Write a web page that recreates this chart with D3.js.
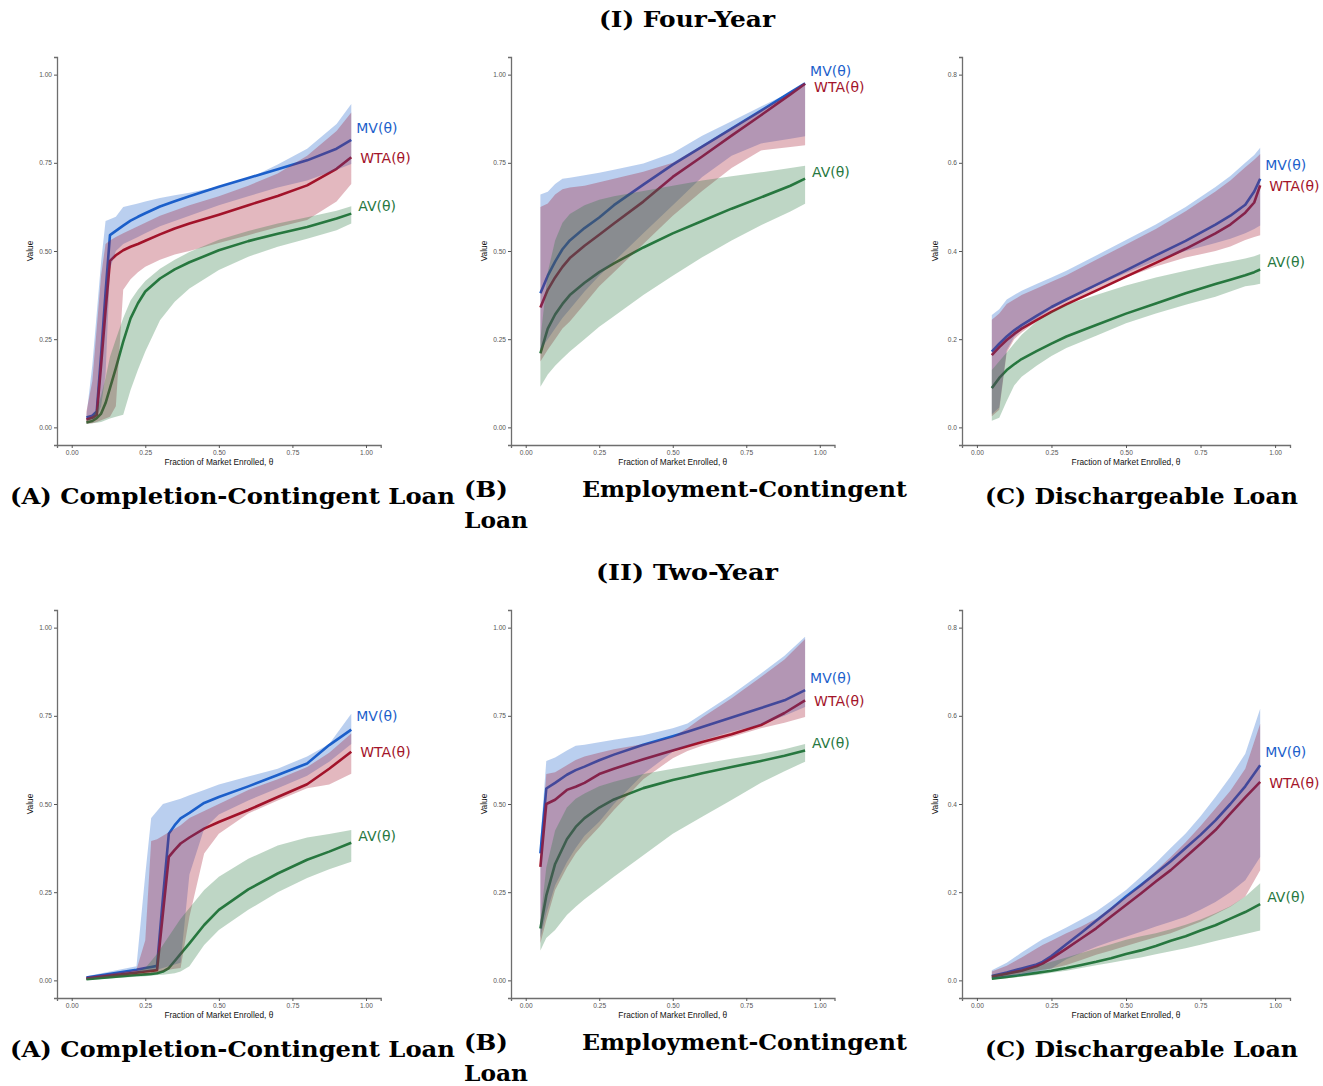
<!DOCTYPE html>
<html><head><meta charset="utf-8">
<script src="https://cdn.jsdelivr.net/npm/d3@7"></script>
<style>body{margin:0;background:#fff}svg{display:block}</style>
</head><body>
<svg id="c" width="1323" height="1086"></svg>
<script>
// ---------- DATA ----------
const rowTitles = ["(I) Four-Year", "(II) Two-Year"];
const seriesNames = ["MV(θ)", "WTA(θ)", "AV(θ)"];
const xTicks = [0, 0.25, 0.5, 0.75, 1];
const yTicksUnit = [0, 0.25, 0.5, 0.75, 1];
const yTicksDis = [0, 0.2, 0.4, 0.6, 0.8];

// Four-year, (A) Completion-Contingent
const xFourA   = [0.05,0.07,0.085,0.1,0.115,0.13,0.15,0.175,0.2,0.225,0.25,0.3,0.35,0.4,0.5,0.6,0.7,0.8,0.9,0.95];
const mvFourA  = [0.028,0.033,0.045,0.207,0.383,0.545,0.557,0.572,0.586,0.597,0.607,0.626,0.641,0.655,0.682,0.707,0.732,0.757,0.79,0.815];
const mvLoFourA= [0.02,0.022,0.03,0.06,0.15,0.45,0.5,0.52,0.53,0.54,0.55,0.57,0.585,0.6,0.63,0.655,0.68,0.7,0.73,0.747];
const mvHiFourA= [0.033,0.176,0.323,0.47,0.585,0.59,0.597,0.625,0.63,0.635,0.64,0.65,0.658,0.665,0.683,0.705,0.745,0.79,0.86,0.917];
const wtaFourA = [0.022,0.027,0.035,0.178,0.331,0.472,0.488,0.502,0.512,0.52,0.529,0.547,0.564,0.578,0.603,0.63,0.656,0.686,0.733,0.766];
const wtaLoFourA=[0.01,0.012,0.015,0.02,0.025,0.03,0.06,0.39,0.42,0.44,0.455,0.475,0.49,0.5,0.523,0.545,0.567,0.588,0.64,0.69];
const wtaHiFourA=[0.045,0.131,0.281,0.431,0.52,0.53,0.54,0.55,0.56,0.57,0.58,0.6,0.615,0.63,0.655,0.685,0.72,0.77,0.84,0.893];
const avFourA  = [0.014,0.018,0.026,0.039,0.069,0.111,0.168,0.243,0.309,0.352,0.385,0.422,0.448,0.468,0.502,0.528,0.549,0.568,0.592,0.606];
const avLoFourA= [0.01,0.012,0.013,0.015,0.02,0.025,0.03,0.036,0.106,0.163,0.215,0.304,0.356,0.394,0.446,0.484,0.512,0.535,0.559,0.578];
const avHiFourA= [0.02,0.03,0.05,0.09,0.14,0.2,0.25,0.31,0.36,0.39,0.415,0.45,0.475,0.497,0.532,0.557,0.578,0.596,0.614,0.627];
const labelYFourA = [0.85, 0.765, 0.627];

// Four-year, (B) Employment-Contingent
const xFourB   = [0.05,0.075,0.1,0.125,0.15,0.2,0.25,0.3,0.4,0.5,0.6,0.7,0.8,0.9,0.95];
const mvFourB  = [0.38,0.43,0.47,0.505,0.53,0.565,0.595,0.63,0.688,0.745,0.796,0.847,0.898,0.95,0.975];
const mvLoFourB= [0.22,0.25,0.28,0.31,0.335,0.385,0.43,0.47,0.55,0.63,0.71,0.77,0.805,0.818,0.825];
const mvHiFourB= [0.66,0.668,0.69,0.705,0.708,0.715,0.722,0.73,0.748,0.778,0.827,0.868,0.91,0.95,0.978];
const wtaFourB = [0.34,0.39,0.425,0.455,0.48,0.515,0.546,0.578,0.64,0.71,0.768,0.827,0.885,0.944,0.974];
const wtaLoFourB=[0.187,0.22,0.25,0.28,0.3,0.35,0.4,0.44,0.52,0.6,0.67,0.735,0.785,0.795,0.8];
const wtaHiFourB=[0.625,0.635,0.66,0.675,0.68,0.685,0.695,0.705,0.725,0.75,0.8,0.85,0.9,0.945,0.974];
const avFourB  = [0.21,0.28,0.32,0.35,0.375,0.41,0.44,0.465,0.51,0.55,0.585,0.62,0.652,0.685,0.705];
const avLoFourB= [0.115,0.15,0.175,0.195,0.215,0.25,0.285,0.315,0.375,0.43,0.482,0.53,0.573,0.612,0.634];
const avHiFourB= [0.25,0.44,0.53,0.58,0.605,0.63,0.645,0.655,0.67,0.685,0.7,0.712,0.723,0.735,0.742];
const labelYFourB = [1.011, 0.966, 0.723];

// Four-year, (C) Dischargeable
const xFourC   = [0.05,0.075,0.1,0.125,0.15,0.2,0.25,0.3,0.4,0.5,0.6,0.7,0.8,0.85,0.9,0.93,0.95];
const mvFourC  = [0.172,0.19,0.206,0.22,0.232,0.253,0.273,0.29,0.323,0.356,0.39,0.423,0.46,0.48,0.505,0.535,0.564];
const mvLoFourC= [0.03,0.045,0.175,0.205,0.222,0.247,0.268,0.288,0.32,0.35,0.378,0.4,0.418,0.428,0.44,0.45,0.458];
const mvHiFourC= [0.255,0.268,0.29,0.3,0.31,0.325,0.34,0.355,0.39,0.425,0.46,0.5,0.545,0.57,0.6,0.618,0.634];
const wtaFourC = [0.164,0.182,0.198,0.212,0.224,0.243,0.262,0.279,0.31,0.342,0.373,0.405,0.44,0.46,0.487,0.51,0.549];
const wtaLoFourC=[0.025,0.04,0.17,0.2,0.215,0.24,0.26,0.28,0.31,0.34,0.365,0.385,0.4,0.41,0.425,0.432,0.436];
const wtaHiFourC=[0.244,0.258,0.28,0.29,0.3,0.315,0.33,0.345,0.38,0.415,0.45,0.49,0.535,0.56,0.59,0.607,0.62];
const avFourC  = [0.089,0.112,0.13,0.143,0.155,0.173,0.19,0.206,0.232,0.258,0.281,0.304,0.325,0.335,0.345,0.352,0.358];
const avLoFourC= [0.015,0.022,0.06,0.095,0.115,0.14,0.162,0.18,0.208,0.236,0.258,0.278,0.296,0.308,0.32,0.323,0.326];
const avHiFourC= [0.13,0.15,0.17,0.19,0.21,0.24,0.262,0.278,0.3,0.322,0.34,0.355,0.37,0.376,0.383,0.388,0.393];
const labelYFourC = [0.594, 0.547, 0.375];

// Two-year, (A) Completion-Contingent
const xTwoA    = [0.05,0.22,0.25,0.27,0.29,0.31,0.33,0.35,0.37,0.4,0.45,0.5,0.6,0.7,0.8,0.875,0.95];
const mvTwoA   = [0.008,0.03,0.035,0.038,0.041,0.234,0.416,0.44,0.459,0.475,0.503,0.52,0.55,0.582,0.615,0.667,0.711];
const mvLoTwoA = [0.004,0.02,0.025,0.028,0.03,0.035,0.04,0.045,0.05,0.3,0.43,0.47,0.51,0.545,0.58,0.62,0.67];
const mvHiTwoA = [0.012,0.04,0.3,0.46,0.48,0.5,0.505,0.51,0.515,0.525,0.54,0.555,0.578,0.6,0.635,0.67,0.756];
const wtaTwoA  = [0.005,0.022,0.025,0.027,0.029,0.19,0.35,0.37,0.388,0.405,0.43,0.449,0.483,0.52,0.556,0.6,0.648];
const wtaLoTwoA= [0.003,0.015,0.017,0.02,0.022,0.025,0.03,0.033,0.035,0.18,0.36,0.416,0.473,0.51,0.545,0.555,0.586];
const wtaHiTwoA= [0.01,0.03,0.114,0.395,0.4,0.41,0.42,0.43,0.44,0.46,0.48,0.5,0.54,0.57,0.605,0.645,0.7];
const avTwoA   = [0.003,0.015,0.017,0.018,0.02,0.025,0.035,0.055,0.075,0.105,0.157,0.2,0.258,0.303,0.342,0.365,0.39];
const avLoTwoA = [0.001,0.01,0.012,0.013,0.015,0.016,0.018,0.02,0.025,0.04,0.1,0.143,0.2,0.25,0.29,0.315,0.336];
const avHiTwoA = [0.006,0.025,0.035,0.055,0.075,0.1,0.125,0.15,0.175,0.205,0.256,0.294,0.345,0.382,0.405,0.415,0.426];
const labelYTwoA = [0.749, 0.647, 0.409];

// Two-year, (B) Employment-Contingent
const xTwoB    = [0.05,0.07,0.1,0.14,0.17,0.2,0.25,0.3,0.4,0.5,0.55,0.6,0.7,0.8,0.88,0.95];
const mvTwoB   = [0.36,0.544,0.56,0.583,0.596,0.606,0.624,0.64,0.668,0.692,0.705,0.718,0.745,0.772,0.794,0.823];
const mvLoTwoB = [0.12,0.19,0.27,0.335,0.375,0.41,0.45,0.5,0.585,0.648,0.665,0.68,0.705,0.725,0.75,0.775];
const mvHiTwoB = [0.4,0.622,0.632,0.652,0.665,0.668,0.675,0.682,0.695,0.715,0.728,0.755,0.81,0.87,0.92,0.974];
const wtaTwoB  = [0.322,0.5,0.512,0.54,0.549,0.56,0.585,0.6,0.627,0.652,0.664,0.676,0.698,0.724,0.758,0.794];
const wtaLoTwoB= [0.105,0.17,0.256,0.32,0.36,0.39,0.435,0.483,0.57,0.63,0.65,0.665,0.69,0.715,0.73,0.747];
const wtaHiTwoB= [0.35,0.585,0.59,0.61,0.625,0.635,0.645,0.655,0.67,0.69,0.715,0.745,0.8,0.86,0.91,0.968];
const avTwoB   = [0.147,0.24,0.33,0.4,0.435,0.46,0.49,0.513,0.545,0.568,0.577,0.587,0.605,0.622,0.637,0.652];
const avLoTwoB = [0.085,0.12,0.143,0.185,0.209,0.23,0.262,0.294,0.355,0.416,0.44,0.464,0.511,0.56,0.593,0.62];
const avHiTwoB = [0.17,0.32,0.425,0.49,0.515,0.53,0.55,0.563,0.585,0.6,0.607,0.614,0.628,0.642,0.655,0.67];
const labelYTwoB = [0.856, 0.791, 0.672];

// Two-year, (C) Dischargeable
const xTwoC    = [0.05,0.1,0.15,0.2,0.22,0.25,0.3,0.35,0.4,0.45,0.5,0.55,0.6,0.65,0.7,0.75,0.8,0.85,0.9,0.95];
const mvTwoC   = [0.01,0.018,0.027,0.036,0.042,0.055,0.082,0.108,0.135,0.162,0.19,0.216,0.243,0.27,0.3,0.33,0.363,0.4,0.44,0.488];
const mvLoTwoC = [0.005,0.008,0.012,0.02,0.022,0.027,0.048,0.062,0.076,0.088,0.099,0.11,0.122,0.133,0.144,0.16,0.178,0.2,0.227,0.28];
const mvHiTwoC = [0.023,0.04,0.063,0.085,0.093,0.103,0.12,0.138,0.156,0.18,0.205,0.235,0.266,0.3,0.333,0.372,0.416,0.462,0.514,0.616];
const wtaTwoC  = [0.008,0.015,0.022,0.032,0.038,0.05,0.072,0.095,0.118,0.145,0.171,0.197,0.224,0.25,0.28,0.31,0.341,0.378,0.415,0.45];
const wtaLoTwoC= [0.006,0.01,0.015,0.022,0.024,0.027,0.035,0.046,0.058,0.068,0.078,0.088,0.098,0.107,0.12,0.133,0.15,0.167,0.19,0.25];
const wtaHiTwoC= [0.02,0.033,0.052,0.072,0.08,0.09,0.107,0.122,0.14,0.165,0.19,0.218,0.248,0.28,0.313,0.35,0.39,0.43,0.48,0.582];
const avTwoC   = [0.004,0.008,0.012,0.017,0.019,0.022,0.028,0.035,0.042,0.05,0.06,0.068,0.078,0.09,0.1,0.113,0.125,0.14,0.155,0.173];
const avLoTwoC = [0.002,0.005,0.008,0.012,0.014,0.017,0.022,0.028,0.034,0.04,0.046,0.052,0.059,0.066,0.073,0.081,0.089,0.097,0.105,0.113];
const avHiTwoC = [0.012,0.018,0.024,0.032,0.036,0.042,0.052,0.062,0.072,0.082,0.092,0.1,0.107,0.116,0.126,0.138,0.152,0.168,0.19,0.22];
const labelYTwoC = [0.517, 0.447, 0.189];

// ---------- LAYOUT / STYLE ----------
const colors = ["#1c5fcb", "#a3142a", "#27783f"];
const svg = d3.select("#c");

const panels = [
  {row:0, col:0, yMax:1, ticks:yTicksUnit, fmt:d3.format(".2f"), x:xFourA, s:[[mvFourA,mvLoFourA,mvHiFourA],[wtaFourA,wtaLoFourA,wtaHiFourA],[avFourA,avLoFourA,avHiFourA]], ly:labelYFourA},
  {row:0, col:1, yMax:1, ticks:yTicksUnit, fmt:d3.format(".2f"), x:xFourB, s:[[mvFourB,mvLoFourB,mvHiFourB],[wtaFourB,wtaLoFourB,wtaHiFourB],[avFourB,avLoFourB,avHiFourB]], ly:labelYFourB},
  {row:0, col:2, yMax:0.8, ticks:yTicksDis, fmt:d3.format(".1f"), x:xFourC, s:[[mvFourC,mvLoFourC,mvHiFourC],[wtaFourC,wtaLoFourC,wtaHiFourC],[avFourC,avLoFourC,avHiFourC]], ly:labelYFourC},
  {row:1, col:0, yMax:1, ticks:yTicksUnit, fmt:d3.format(".2f"), x:xTwoA, s:[[mvTwoA,mvLoTwoA,mvHiTwoA],[wtaTwoA,wtaLoTwoA,wtaHiTwoA],[avTwoA,avLoTwoA,avHiTwoA]], ly:labelYTwoA},
  {row:1, col:1, yMax:1, ticks:yTicksUnit, fmt:d3.format(".2f"), x:xTwoB, s:[[mvTwoB,mvLoTwoB,mvHiTwoB],[wtaTwoB,wtaLoTwoB,wtaHiTwoB],[avTwoB,avLoTwoB,avHiTwoB]], ly:labelYTwoB},
  {row:1, col:2, yMax:0.8, ticks:yTicksDis, fmt:d3.format(".1f"), x:xTwoC, s:[[mvTwoC,mvLoTwoC,mvHiTwoC],[wtaTwoC,wtaLoTwoC,wtaHiTwoC],[avTwoC,avLoTwoC,avHiTwoC]], ly:labelYTwoC}
];
const colX = [[57,380.7],[511,834.5],[962,1290]];
const rowY = [[57,445],[610,998]];
const labelDx = [5, 9, 7];

panels.forEach(p => {
  const [x0,x1] = colX[p.col], [y0,y1] = rowY[p.row];
  const xs = d3.scaleLinear().domain([-0.05,1.05]).range([x0,x1]);
  const pad = p.yMax*0.05;
  const ys = d3.scaleLinear().domain([-pad,p.yMax+pad]).range([y1,y0]);
  const g = svg.append("g");
  const pts = (arr) => p.x.map((v,i)=>[v,arr[i]]);
  // lines first
  p.s.forEach((ser,k) => {
    g.append("path").attr("d", d3.line().x(d=>xs(d[0])).y(d=>ys(d[1]))(pts(ser[0])))
      .attr("fill","none").attr("stroke",colors[k]).attr("stroke-width",2.6).attr("stroke-linejoin","round");
  });
  // ribbons on top
  p.s.forEach((ser,k) => {
    const area = d3.area().x((d,i)=>xs(p.x[i])).y0((d,i)=>ys(ser[1][i])).y1((d,i)=>ys(ser[2][i]));
    g.append("path").attr("d", area(p.x)).attr("fill",colors[k]).attr("fill-opacity",0.3).attr("stroke","none");
  });
  // labels
  p.s.forEach((ser,k) => {
    g.append("text").attr("x", xs(p.x[p.x.length-1]) + labelDx[k]).attr("y", ys(p.ly[k]))
      .attr("dominant-baseline","central").attr("fill",colors[k])
      .style("font-family","DejaVu Sans, sans-serif").style("font-size","14px").text(seriesNames[k]);
  });
  // axes
  const xa = g.append("g").attr("transform",`translate(0,${y1})`)
    .call(d3.axisBottom(xs).tickValues(xTicks).tickFormat(d3.format(".2f")).tickSize(3).tickPadding(2));
  const ya = g.append("g").attr("transform",`translate(${x0},0)`)
    .call(d3.axisLeft(ys).tickValues(p.ticks).tickFormat(p.fmt).tickSize(3).tickPadding(2));
  [xa,ya].forEach(a => {
    a.select(".domain").attr("stroke","#6e6e6e").attr("stroke-width",1.3);
    a.selectAll(".tick line").attr("stroke","#555");
    a.selectAll(".tick text").attr("fill","#555").style("font-family","Liberation Sans, Arial, sans-serif").style("font-size","6.6px");
  });
  g.append("text").attr("x",(x0+x1)/2).attr("y",y1+20).attr("text-anchor","middle")
    .style("font-family","Liberation Sans, Arial, sans-serif").style("font-size","8.3px").attr("fill","#111")
    .text("Fraction of Market Enrolled, θ");
  g.append("text").attr("transform",`translate(${x0-24},${(y0+y1)/2}) rotate(-90)`).attr("text-anchor","middle")
    .style("font-family","Liberation Sans, Arial, sans-serif").style("font-size","8.3px").attr("fill","#111")
    .text("Value");
});

// titles
const serif = "DejaVu Serif, Liberation Serif, serif";
function ttl(txt,x,y,len,anchor){
  svg.append("text").attr("x",x).attr("y",y).attr("text-anchor",anchor||"start")
    .style("font-family",serif).style("font-weight","bold").style("font-size","23px").attr("fill","#000")
    .attr("textLength",len).attr("lengthAdjust","spacingAndGlyphs").text(txt);
}
[0,1].forEach(r => {
  const off = r*553;
  ttl(rowTitles[r], r===0?599:596, 27+off, r===0?176:182);
  ttl("(A) Completion-Contingent Loan", 10, 504+off, 445);
  ttl("(B)", 464, 497+off, 44);
  ttl("Employment-Contingent", 582, 497+off, 325);
  ttl("Loan", 464, 528+off, 64);
  ttl("(C) Dischargeable Loan", 985, 504+off, 313);
});
</script>
</body></html>
